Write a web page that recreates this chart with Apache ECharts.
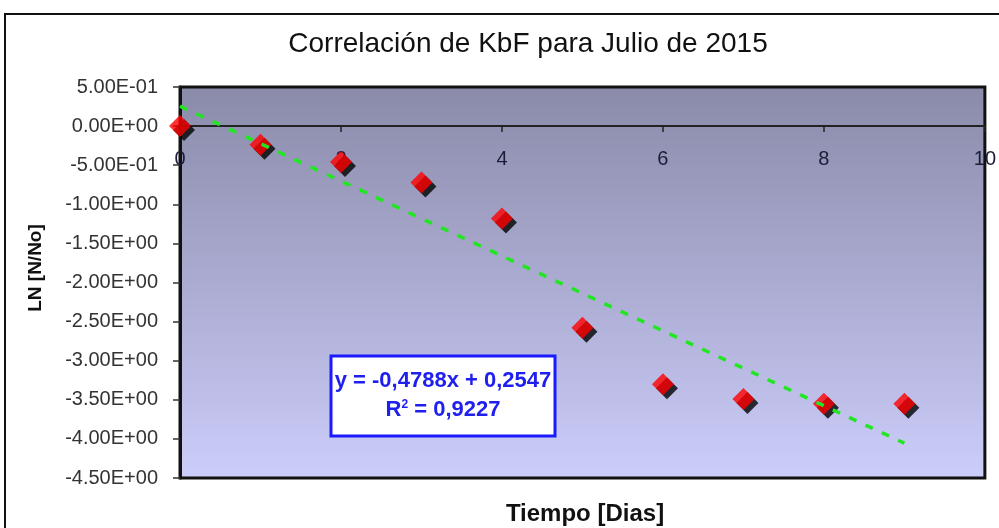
<!DOCTYPE html>
<html lang="es">
<head>
    <meta charset="UTF-8">
    <script src="https://cdn.jsdelivr.net/npm/echarts@6/dist/echarts.min.js"></script>
    <style>
        html, body { margin: 0; padding: 0; background: #fff; }
        #chart { width: 999px; height: 528px; }
    </style>
</head>
<body>
<div id="chart"></div>
<script type="text/javascript">
    // dias y LN[N/No]
    var dias = [0, 1, 2, 3, 4, 5, 6, 7, 8, 9];
    var lnN = [0, -0.24, -0.46, -0.72, -1.18, -2.58, -3.30, -3.49, -3.55, -3.55];
    // extremos de la linea de tendencia (y = -0,4788x + 0,2547)
    var trendX = [0, 9];
    var trendY = [0.2547, -4.0545];

    var yMin = -4.5, yMax = 0.5, yStep = 0.5;
    var gridTop = 87, gridBottom = 50, alto = 528;

    function sci(v) {
        if (Math.abs(v) < 1e-12) return '0.00E+00';
        var e = Math.floor(Math.log10(Math.abs(v)) + 1e-9);
        var m = v / Math.pow(10, e);
        var ee = Math.abs(e) < 10 ? '0' + Math.abs(e) : '' + Math.abs(e);
        return m.toFixed(2) + 'E' + (e < 0 ? '-' : '+') + ee;
    }

    var puntos = dias.map(function (d, i) { return [d, lnN[i]]; });
    var tendencia = trendX.map(function (d, i) { return [d, trendY[i]]; });

    // el eje x va sobre y = 0: se sube desde el borde inferior
    var altoGrid = alto - gridTop - gridBottom;
    var offsetX = -altoGrid * (0 - yMin) / (yMax - yMin);

    var chart = echarts.init(document.getElementById('chart'));
    chart.setOption({
        animation: false,
        grid: {
            left: 180, top: gridTop, right: 11, bottom: gridBottom,
            show: true,
            borderColor: '#111',
            borderWidth: 3,
            backgroundColor: new echarts.graphic.LinearGradient(0, 0, 0, 1, [
                {offset: 0, color: '#8a8aa9'},
                {offset: 1, color: '#cccdfa'}
            ])
        },
        xAxis: {
            type: 'value',
            min: 0, max: 10, interval: 2,
            offset: offsetX,
            axisLine: {onZero: false, lineStyle: {color: '#222', width: 2}},
            axisTick: {show: true, length: 6, lineStyle: {color: '#222', width: 1.5}},
            axisLabel: {color: '#1c1c3a', fontSize: 20, fontFamily: 'Liberation Sans', margin: 23},
            splitLine: {show: false}
        },
        yAxis: {
            type: 'value',
            min: yMin, max: yMax, interval: yStep,
            axisLine: {lineStyle: {color: '#111', width: 3}},
            axisTick: {show: true, length: 7, lineStyle: {color: '#333', width: 1.5}},
            axisLabel: {color: '#333', fontSize: 20, fontFamily: 'Liberation Sans', margin: 22, formatter: sci},
            splitLine: {show: false}
        },
        series: [
            {
                type: 'scatter',
                data: puntos,
                symbol: 'diamond',
                symbolSize: [22, 22],
                itemStyle: {
                    color: '#ff0000',
                    shadowColor: '#000',
                    shadowBlur: 0,
                    shadowOffsetX: 4,
                    shadowOffsetY: 4
                },
                z: 2
            },
            {
                type: 'line',
                data: tendencia,
                symbol: 'none',
                lineStyle: {color: '#22e622', width: 3.5, type: [8, 10]},
                z: 3
            }
        ],
        graphic: [
            {
                type: 'rect',
                shape: {x: 5, y: 14, width: 1010, height: 530},
                style: {fill: 'none', stroke: '#111', lineWidth: 2},
                silent: true
            },
            {
                type: 'text',
                x: 528, y: 44,
                style: {
                    text: 'Correlación de KbF para Julio de 2015',
                    font: '28px "Liberation Sans"',
                    fill: '#111',
                    textAlign: 'center',
                    textVerticalAlign: 'middle'
                }
            },
            {
                type: 'text',
                x: 585, y: 514,
                style: {
                    text: 'Tiempo [Dias]',
                    font: 'bold 24px "Liberation Sans"',
                    fill: '#111',
                    textAlign: 'center',
                    textVerticalAlign: 'middle'
                }
            },
            {
                type: 'text',
                x: 36, y: 268,
                rotation: Math.PI / 2,
                style: {
                    text: 'LN [N/No]',
                    font: 'bold 19px "Liberation Sans"',
                    fill: '#111',
                    textAlign: 'center',
                    textVerticalAlign: 'middle'
                }
            },
            {
                type: 'group',
                x: 331, y: 356,
                z: 10,
                children: [
                    {
                        type: 'rect',
                        shape: {x: 0, y: 0, width: 224, height: 80},
                        style: {fill: '#fff', stroke: '#1a1aff', lineWidth: 3}
                    },
                    {
                        type: 'text',
                        x: 112, y: 25,
                        style: {
                            text: 'y = -0,4788x + 0,2547',
                            font: 'bold 22px "Liberation Sans"',
                            fill: '#2020ee',
                            textAlign: 'center',
                            textVerticalAlign: 'middle'
                        }
                    },
                    {
                        type: 'text',
                        x: 112, y: 54,
                        style: {
                            text: 'R{s|2} = 0,9227',
                            font: 'bold 22px "Liberation Sans"',
                            fill: '#2020ee',
                            align: 'center',
                            verticalAlign: 'middle',
                            rich: {
                                s: {
                                    fontSize: 12, fontWeight: 'bold', fontFamily: 'Liberation Sans',
                                    fill: '#2020ee', color: '#2020ee', verticalAlign: 'top', padding: [0, 0, 10, 0]
                                }
                            }
                        }
                    }
                ]
            }
        ]
    });
</script>
</body>
</html>
